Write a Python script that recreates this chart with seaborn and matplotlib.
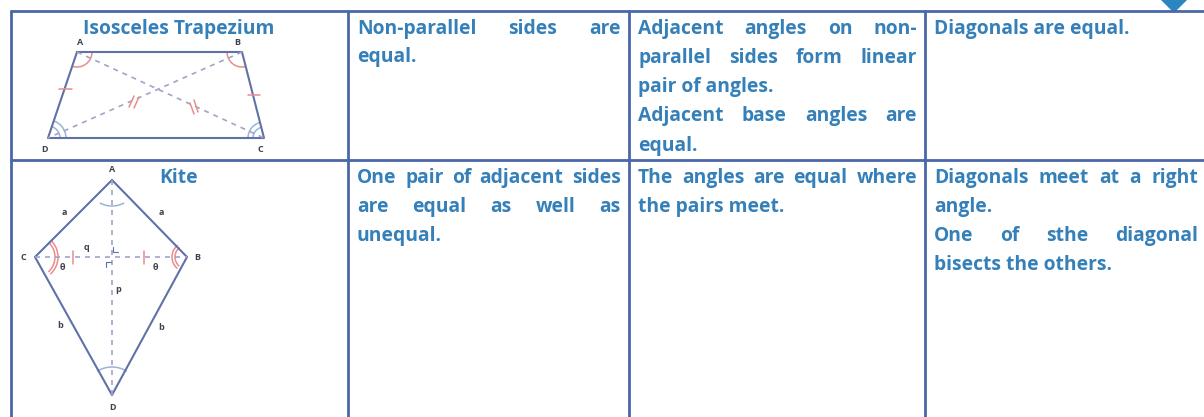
import matplotlib
matplotlib.use("Agg")
import matplotlib.pyplot as plt
import seaborn as sns
from matplotlib.patches import Arc, Polygon

sns.set_theme(style="white")
plt.rcParams["font.family"] = ["Open Sans", "DejaVu Sans"]

W, H = 1204, 417
GRID = "#4a68a8"
SHAPE = "#5f72a8"
DASH = "#a3a3c8"
RED = "#e98d8d"
ARC_BLUE = "#9bb4d6"
TXT = "#3580b8"
DARK = "#3c4250"

# table lines
grid_v = [11, 348, 629, 925]
grid_h = [11, 160]

# text of the cells: (text, left, right, y centre), right=None means not justified
cell_lines = [
    ("Non-parallel sides are", 357, 621, 29),
    ("equal.", 357, None, 57),
    ("Adjacent angles on non-", 638, 917, 29),
    ("parallel sides form linear", 638, 917, 58),
    ("pair of angles.", 638, None, 87),
    ("Adjacent base angles are", 638, 917, 116),
    ("equal.", 638, None, 146),
    ("Diagonals are equal.", 934, None, 29),
    ("One pair of adjacent sides", 357, 621, 178),
    ("are equal as well as", 357, 621, 207),
    ("unequal.", 357, None, 236),
    ("The angles are equal where", 638, 917, 178),
    ("the pairs meet.", 638, None, 207),
    ("Diagonals meet at a right", 934, 1198, 178),
    ("angle.", 934, None, 207),
    ("One of sthe diagonal", 934, 1198, 236),
    ("bisects the others.", 934, None, 265),
]
titles = [("Isosceles Trapezium", 179, 29), ("Kite", 179, 178)]

# trapezium A B C D
trap_x = [77, 242, 264, 48, 77]
trap_y = [52, 52, 138, 138, 52]
trap_diag = [([77, 264], [52, 138]), ([242, 48], [52, 138])]
trap_ticks = [
    ([59, 72], [89, 89]), ([248, 260], [95, 95]),
    ([129, 134], [107, 96]), ([134, 139], [108, 97]),
    ([190, 194], [103, 114]), ([194, 198], [100, 112]),
]
trap_arcs = [
    (77, 52, 30, 0, 108, RED), (242, 52, 30, 76, 180, RED),
    (264, 138, 32, 180, 256, ARC_BLUE), (48, 138, 36, 289, 360, ARC_BLUE),
    (264, 138, 22, 180, 256, ARC_BLUE), (48, 138, 24, 289, 360, ARC_BLUE),
]
trap_labels = [("A", 80, 42), ("B", 237, 42), ("C", 260, 149), ("D", 45, 149)]

# kite A B D C
kite_x = [112, 187, 112, 35, 112]
kite_y = [180, 257, 395, 257, 180]
kite_diag = [([112, 112], [180, 395]), ([35, 187], [257, 257])]
kite_ticks = [
    ([73, 73], [251, 264]), ([144, 144], [251, 264]),
    ([113, 113, 118], [247, 252, 252]), ([111, 106, 106], [262, 262, 267]),
]
kite_arcs = [
    (112, 180, 52, 62, 118, ARC_BLUE), (112, 395, 56, 238, 302, ARC_BLUE),
    (35, 257, 40, -46, 48, RED), (35, 257, 46, -46, 48, RED),
    (187, 257, 24, 130, 232, RED), (187, 257, 30, 130, 232, RED),
]
kite_labels = [
    ("A", 112, 169), ("B", 197, 257), ("C", 23, 257), ("D", 112, 407),
    ("a", 64, 212), ("a", 161, 212), ("b", 60, 326), ("b", 161, 327),
    ("q", 86, 247), ("p", 118, 290), ("θ", 62, 267), ("θ", 155, 267),
]

marker_x = [1160, 1188, 1174]
marker_y = [-1, -1, 13]


def seg(xs, ys, color, lw, ls="-"):
    sns.lineplot(x=xs, y=ys, sort=False, estimator=None, color=color,
                 linewidth=lw, linestyle=ls, legend=False, ax=ax)


def put_line(text, left, right, y):
    # justify by hand: measure the words and spread out the gaps
    if right is None:
        ax.text(left, y, text, color=TXT, fontsize=FS, fontweight=WEIGHT, va="center")
        return
    words = text.split()
    items = [ax.text(left, y, w, color=TXT, fontsize=FS, fontweight=WEIGHT, va="center") for w in words]
    widths = [t.get_window_extent(renderer).width for t in items]
    gap = (right - left - sum(widths)) / (len(words) - 1)
    x = left
    for t, w in zip(items, widths):
        t.set_x(x)
        x += w + gap


FS = 13.9
WEIGHT = "bold"
fig = plt.figure(figsize=(W / 100, H / 100), dpi=100)
ax = fig.add_axes([0, 0, 1, 1])
ax.set_xlim(0, W)
ax.set_ylim(H, 0)
ax.axis("off")
renderer = fig.canvas.get_renderer()

for x in grid_v:
    seg([x, x], [grid_h[0], H], GRID, 2.0)
for y in grid_h:
    seg([grid_v[0], W], [y, y], GRID, 2.0)

ax.add_patch(Polygon(list(zip(marker_x, marker_y)), closed=True, color="#2a86c0", lw=0))

seg(trap_x, trap_y, SHAPE, 1.5)
for xs, ys in trap_diag:
    seg(xs, ys, DASH, 1.2, (0, (3, 3)))
for xs, ys in trap_ticks:
    seg(xs, ys, RED, 1.1)

seg(kite_x, kite_y, SHAPE, 1.5)
for xs, ys in kite_diag:
    seg(xs, ys, DASH, 1.2, (0, (3, 3)))
for xs, ys in kite_ticks[:2]:
    seg(xs, ys, RED, 1.1)
for xs, ys in kite_ticks[2:]:
    seg(xs, ys, SHAPE, 0.8)

for cx, cy, d, a0, a1, c in trap_arcs + kite_arcs:
    ax.add_patch(Arc((cx, cy), d, d, theta1=a0, theta2=a1, color=c, lw=1.1))

for s, x, y in trap_labels + kite_labels:
    ax.text(x, y, s, color=DARK, fontsize=6.5, fontweight="bold", ha="center", va="center")

for s, x, y in titles:
    ax.text(x, y, s, color=TXT, fontsize=FS, fontweight=WEIGHT, ha="center", va="center")

for s, left, right, y in cell_lines:
    put_line(s, left, right, y)

fig.savefig("out.png", dpi=100, facecolor="white")
